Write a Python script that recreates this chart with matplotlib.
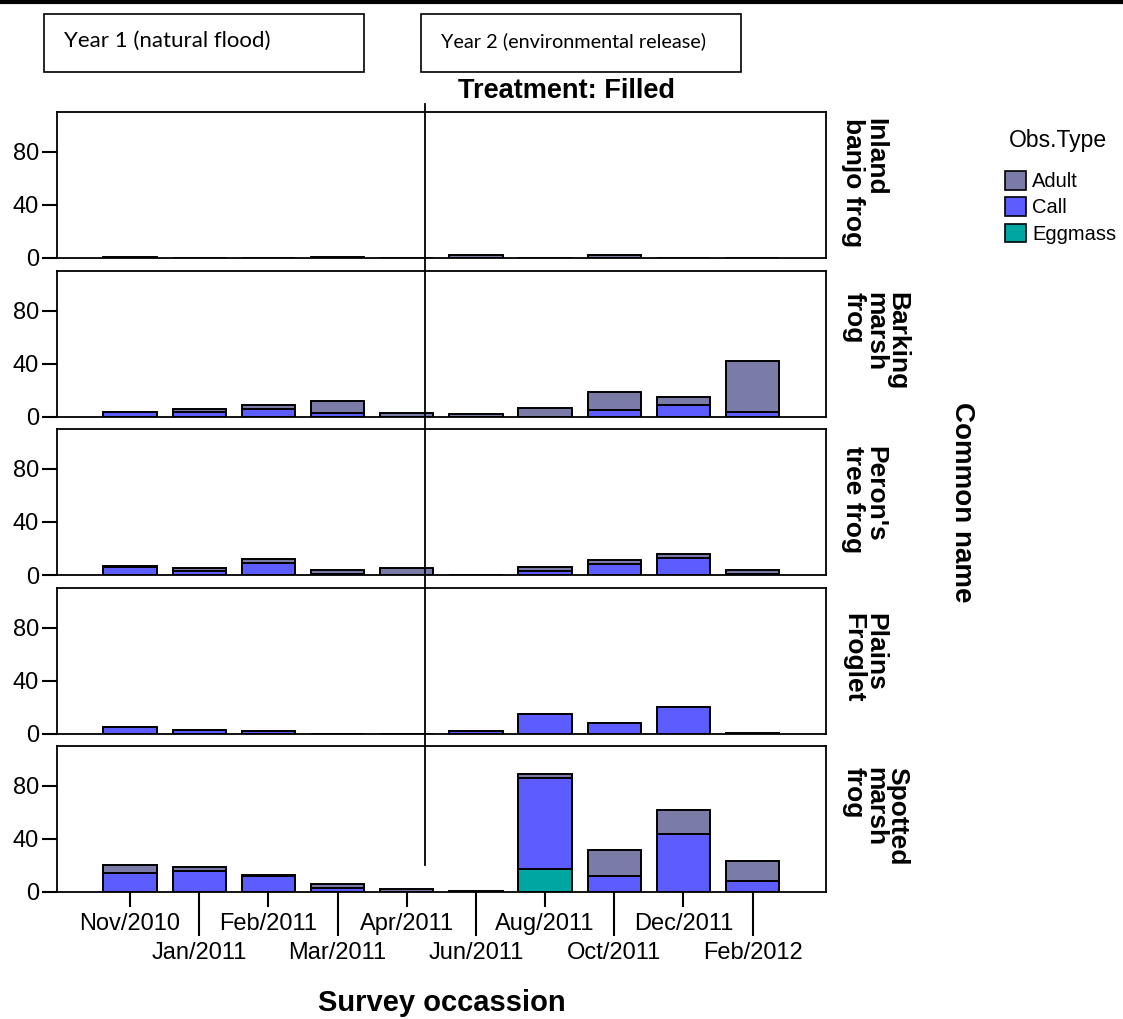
import matplotlib.pyplot as plt
import matplotlib.transforms as mtransforms
from matplotlib.lines import Line2D
from matplotlib.patches import Rectangle, Patch
import numpy as np

plt.rcParams['font.family'] = ['Liberation Sans', 'DejaVu Sans']

occasions = ['Nov/2010', 'Jan/2011', 'Feb/2011', 'Mar/2011', 'Apr/2011',
             'Jun/2011', 'Aug/2011', 'Oct/2011', 'Dec/2011', 'Feb/2012']
species = ['Inland\nbanjo frog', 'Barking\nmarsh\nfrog', "Peron's\ntree frog",
           'Plains\nFroglet', 'Spotted\nmarsh\nfrog']

# one row per species, one value per survey occasion
adult_counts = [
    [1, 0, 0, 1, 0, 2, 0, 2, 0, 0],
    [0, 2, 3, 9, 3, 2, 7, 14, 6, 38],
    [1, 2, 3, 3, 5, 0, 3, 3, 3, 3],
    [0, 0, 0, 0, 0, 0, 0, 0, 0, 1],
    [6, 3, 1, 3, 2, 1, 3, 20, 18, 15],
]
call_counts = [
    [0, 0, 0, 0, 0, 0, 0, 0, 0, 0],
    [4, 4, 6, 3, 0, 0, 0, 5, 9, 4],
    [6, 3, 9, 1, 0, 0, 3, 8, 13, 1],
    [5, 3, 2, 0, 0, 2, 15, 8, 20, 0],
    [14, 16, 12, 3, 0, 0, 69, 12, 44, 8],
]
eggmass_counts = [
    [0, 0, 0, 0, 0, 0, 0, 0, 0, 0],
    [0, 0, 0, 0, 0, 0, 0, 0, 0, 0],
    [0, 0, 0, 0, 0, 0, 0, 0, 0, 0],
    [0, 0, 0, 0, 0, 0, 0, 0, 0, 0],
    [0, 0, 0, 0, 0, 0, 17, 0, 0, 0],
]
obs_types = ['Adult', 'Call', 'Eggmass']
colors = {'Adult': '#7b7ba7', 'Call': '#5d5dff', 'Eggmass': '#00a6a1'}

W, H = 1123, 1019
fig = plt.figure(figsize=(W / 100, H / 100), dpi=100)

# panel placement in pixels (top, bottom)
left_px, right_px = 57, 826
panel_px = [(112, 258), (271, 417), (429, 575), (588, 734), (746, 892)]

x = np.arange(len(occasions))
axes = []
for i, (top, bot) in enumerate(panel_px):
    ax = fig.add_axes([left_px / W, 1 - bot / H, (right_px - left_px) / W, (bot - top) / H])
    egg = np.array(eggmass_counts[i])
    call = np.array(call_counts[i])
    adult = np.array(adult_counts[i])
    kw = dict(width=0.77, edgecolor='black', linewidth=1.4)
    ax.bar(x, egg, color=colors['Eggmass'], **kw)
    ax.bar(x, call, bottom=egg, color=colors['Call'], **kw)
    ax.bar(x, adult, bottom=egg + call, color=colors['Adult'], **kw)
    ax.set_xlim(-1.055, 10.06)
    ax.set_ylim(0, 110)
    ax.set_yticks([0, 40, 80])
    ax.tick_params(axis='y', length=11, width=1.5, labelsize=17, pad=2)
    for s in ax.spines.values():
        s.set_linewidth(1.3)
    ax.text(1.02, 0.52, species[i], transform=ax.transAxes, rotation=270,
            ha='left', va='center', multialignment='left',
            fontsize=19, fontweight='bold', linespacing=0.9)
    if i < len(panel_px) - 1:
        ax.set_xticks([])
    else:
        ax.set_xticks(x[0::2], [occasions[k] for k in x[0::2]])
        ax.set_xticks(x[1::2], [occasions[k] for k in x[1::2]], minor=True)
        ax.tick_params(axis='x', which='major', length=11, width=1.5, labelsize=17, pad=4)
        ax.tick_params(axis='x', which='minor', length=32, width=1.5, labelsize=17, pad=4)
    axes.append(ax)

# divider between the two years (between Apr/2011 and Jun/2011)
divider_x = 4.27
trans = mtransforms.blended_transform_factory(axes[0].transData, fig.transFigure)
fig.add_artist(Line2D([divider_x, divider_x], [1 - 104 / H, 1 - 865 / H],
                      transform=trans, color='black', lw=1.3))

# top rule
fig.add_artist(Line2D([0, 1], [1 - 2 / H, 1 - 2 / H], color='black', lw=3))

# year boxes
for (x0, x1), label, size in [((44, 364), 'Year 1 (natural flood)', 16),
                               ((421, 741), 'Year 2 (environmental release)', 14.3)]:
    fig.add_artist(Rectangle((x0 / W, 1 - 72 / H), (x1 - x0) / W, 58 / H,
                             transform=fig.transFigure, fill=False,
                             edgecolor='black', lw=1.2))
    fig.text((x0 + 20) / W, 1 - 41 / H, label, ha='left', va='center',
             fontsize=size, family='Lato')

fig.text(567 / W, 1 - 91 / H, 'Treatment: Filled', ha='center', va='center',
         fontsize=19.5, fontweight='bold')
fig.text(442 / W, 1 - 1003 / H, 'Survey occassion', ha='center', va='center',
         fontsize=21, fontweight='bold')
fig.text(962 / W, 1 - 502 / H, 'Common name', ha='center', va='center',
         rotation=270, fontsize=20, fontweight='bold')

# legend
fig.text(1009 / W, 1 - 141 / H, 'Obs.Type', ha='left', va='center', fontsize=16.5)
handles = [Patch(facecolor=colors[t], edgecolor='black', linewidth=1.2) for t in obs_types]
leg = fig.legend(handles, obs_types, loc='upper left',
                 bbox_to_anchor=(1005 / W, 1 - 171 / H), frameon=False,
                 fontsize=14.5, handlelength=1.05, handleheight=1.05,
                 handletextpad=0.3, labelspacing=0.3, borderaxespad=0,
                 borderpad=0)

fig.savefig('out.png', dpi=100)
